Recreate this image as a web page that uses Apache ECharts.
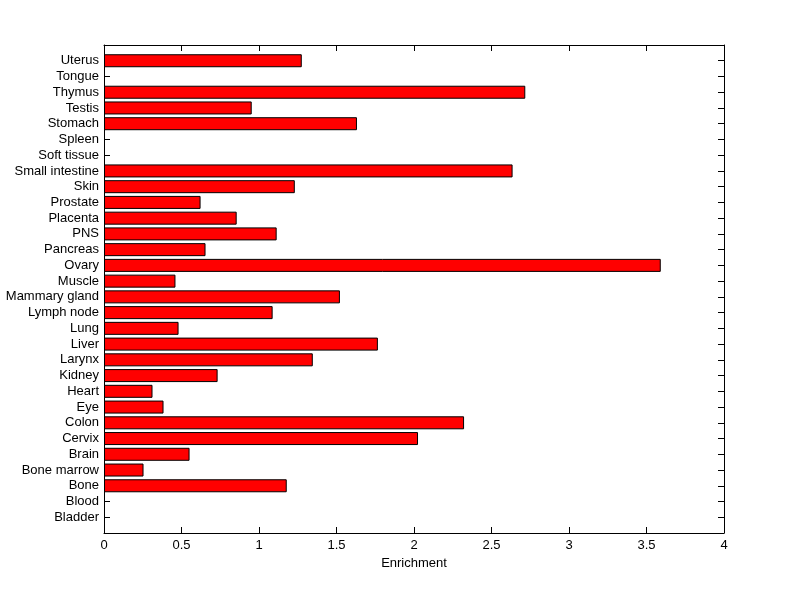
<!DOCTYPE html>
<html><head><meta charset="utf-8">
<script src="https://cdn.jsdelivr.net/npm/echarts@6/dist/echarts.min.js"></script>
<style>html,body{margin:0;padding:0;background:#fff}#c{width:800px;height:599px}</style>
</head><body><div id="c"></div>
<script>
var categories = ["Bladder","Blood","Bone","Bone marrow","Brain","Cervix","Colon","Eye","Heart","Kidney","Larynx","Liver","Lung","Lymph node","Mammary gland","Muscle","Ovary","Pancreas","PNS","Placenta","Prostate","Skin","Small intestine","Soft tissue","Spleen","Stomach","Testis","Thymus","Tongue","Uterus"];
var enrichment = [0,0,1.179,0.255,0.552,2.026,2.323,0.384,0.313,0.733,1.347,1.767,0.481,1.088,1.522,0.461,3.592,0.655,1.114,0.856,0.623,1.231,2.636,0,0,1.632,0.953,2.718,0,1.276];
var xTicks = [0,0.5,1,1.5,2,2.5,3,3.5,4];
var xTitle = "Enrichment";

// pad one empty slot at each end so the categories sit at 1..30 of a 0..31 range
var yData = [''].concat(categories, ['']);
var barData = [null].concat(enrichment.map(function(v){
  return v === 0 ? {value:v, itemStyle:{borderWidth:0}} : v;
}), [null]);

var font = "'Liberation Sans', Arial, sans-serif";
var chart = echarts.init(document.getElementById('c'));
var common = {color:'#000', fontFamily:font, fontSize:13};
var tick = {show:true, inside:true, length:6, lineStyle:{color:'#000', width:1}};
var line = {show:true, onZero:false, lineStyle:{color:'#000', width:1}};
chart.setOption({
  backgroundColor:'#fff',
  animation:false,
  grid:{left:104, top:45, width:620, height:488},
  xAxis:[{
    type:'value', min:xTicks[0], max:xTicks[xTicks.length-1], interval:0.5,
    position:'bottom',
    name:xTitle, nameLocation:'middle', nameGap:22, nameTextStyle:common,
    axisLine:line, axisTick:tick,
    axisLabel:Object.assign({margin:6}, common),
    splitLine:{show:false}
  },{
    type:'value', min:xTicks[0], max:xTicks[xTicks.length-1], interval:0.5,
    position:'top',
    axisLine:line, axisTick:tick, axisLabel:{show:false}, splitLine:{show:false}
  }],
  yAxis:[{
    type:'category', data:yData, boundaryGap:false, position:'left',
    axisLine:line, axisTick:Object.assign({interval:0}, tick),
    axisLabel:Object.assign({interval:0, margin:5}, common),
    splitLine:{show:false}
  },{
    type:'category', data:yData, boundaryGap:false, position:'right',
    axisLine:line, axisTick:Object.assign({interval:0}, tick),
    axisLabel:{show:false}, splitLine:{show:false}
  }],
  series:[{
    type:'bar', xAxisIndex:0, yAxisIndex:0,
    data:barData, barWidth:13,
    itemStyle:{color:'#ff0000', borderColor:'#000', borderWidth:1}
  }]
});
</script></body></html>
